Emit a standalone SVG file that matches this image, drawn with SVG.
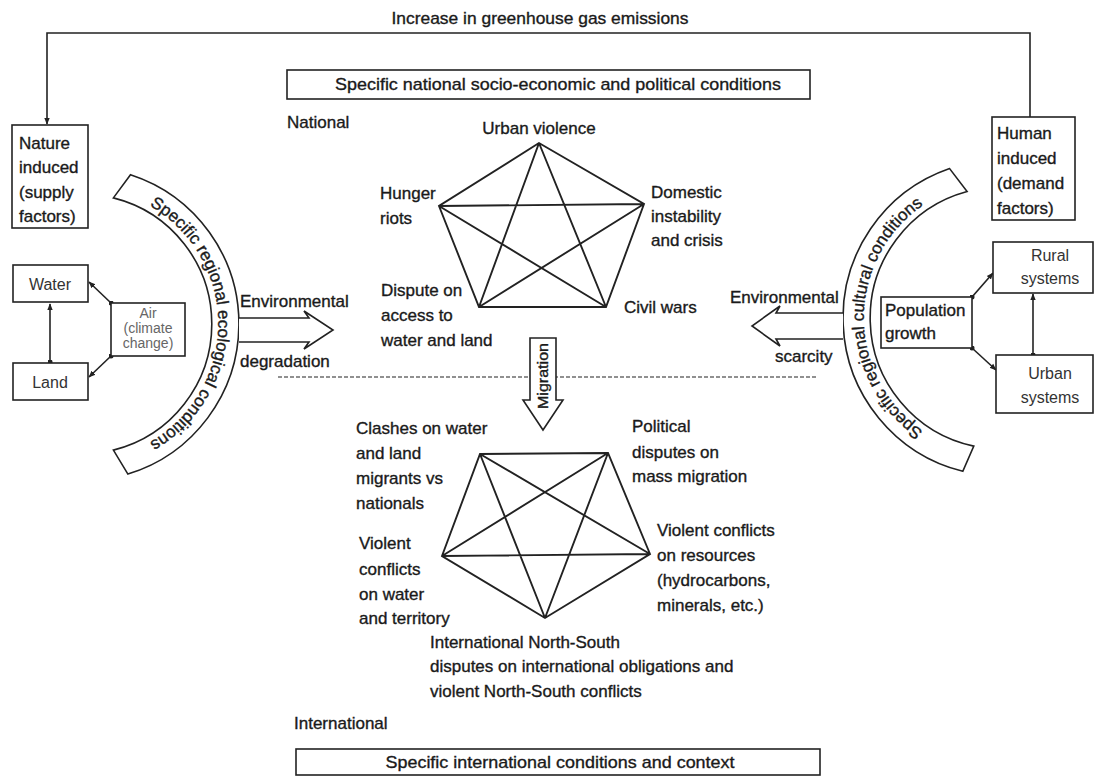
<svg xmlns="http://www.w3.org/2000/svg" width="1097" height="776" viewBox="0 0 1097 776">
<defs>
<style>
.t{font-family:"Liberation Sans",Arial,sans-serif;font-size:17px;fill:#1a1a1a;stroke:#1a1a1a;stroke-width:0.35px}
.ts{font-family:"Liberation Sans",Arial,sans-serif;font-size:16px;fill:#333}
.tg{font-family:"Liberation Sans",Arial,sans-serif;font-size:14px;fill:#666}
.box{fill:#fff;stroke:#222;stroke-width:1.6}
.ln{fill:none;stroke:#222;stroke-width:1.6}
.pl{fill:none;stroke:#222;stroke-width:1.9}
.band{fill:#fff;stroke:#222;stroke-width:1.6}
</style>
<marker id="arr" viewBox="0 0 10 10" refX="9" refY="5" markerWidth="7" markerHeight="7" markerUnits="userSpaceOnUse" orient="auto"><path d="M0,1 L10,5 L0,9 z" fill="#222"/></marker>
<marker id="dot" viewBox="0 0 10 10" refX="5" refY="5" markerWidth="5" markerHeight="5" markerUnits="userSpaceOnUse"><circle cx="5" cy="5" r="5" fill="#222"/></marker>
<path id="arcL" d="M93.9,188.5 A136,136 0 0 1 93.9,459.5"/>
<path id="arcR" d="M989.1,454.5 A137,137 0 0 1 989.1,181.5"/>
</defs>
<rect width="1097" height="776" fill="#fff"/>

<g id="connectors">
<path class="ln" d="M1030,117 L1030,33 L47,33 L47,124" marker-end="url(#arr)"/>
<path class="ln" d="M50,362 L50,304" marker-start="url(#dot)" marker-end="url(#arr)"/>
<path class="ln" d="M111,303 L89,282" marker-start="url(#dot)" marker-end="url(#arr)"/>
<path class="ln" d="M111,356 L89,377" marker-start="url(#dot)" marker-end="url(#arr)"/>
<path class="ln" d="M972,297 L993,273" marker-start="url(#dot)" marker-end="url(#arr)"/>
<path class="ln" d="M972,348 L996,370" marker-start="url(#dot)" marker-end="url(#arr)"/>
<path class="ln" d="M1033,355 L1033,294" marker-start="url(#dot)" marker-end="url(#arr)"/>
<g id="national-web">
<path class="pl" d="M539,143 L439,206 L479,307 L606,307 L644,204 Z M539,143 L479,307 M539,143 L606,307 M439,206 L644,204 M439,206 L606,307 M644,204 L479,307"/>
</g>
<g id="international-web">
<path class="pl" d="M480,454 L608,453 L650,554 L545,618 L442,556 Z M480,454 L650,554 M480,454 L545,618 M608,453 L442,556 M608,453 L545,618 M442,556 L650,554"/>
</g>
<line x1="278" y1="377" x2="818" y2="377" stroke="#222" stroke-width="1.2" stroke-dasharray="4 2"/>
</g>

<text class="t" x="540" y="24" text-anchor="middle" textLength="297" lengthAdjust="spacingAndGlyphs">Increase in greenhouse gas emissions</text>

<g id="national-conditions">
<rect class="box" x="287" y="70" width="523" height="29"/>
<text class="t" x="558" y="90" text-anchor="middle" textLength="446" lengthAdjust="spacingAndGlyphs">Specific national socio-economic and political conditions</text>
</g>
<text class="t" x="287" y="128">National</text>

<g id="nature-induced">
<rect class="box" x="12" y="125" width="76" height="103"/>
<text class="t" x="19" y="149">Nature</text>
<text class="t" x="19" y="173">induced</text>
<text class="t" x="19" y="198">(supply</text>
<text class="t" x="19" y="222">factors)</text>
</g>

<g id="human-induced">
<rect class="box" x="992" y="117" width="83" height="103"/>
<text class="t" x="997" y="139">Human</text>
<text class="t" x="997" y="164">induced</text>
<text class="t" x="997" y="189">(demand</text>
<text class="t" x="997" y="214">factors)</text>
</g>

<g id="water">
<rect class="box" x="13" y="265" width="75" height="37"/>
<text class="ts" x="50" y="290" text-anchor="middle">Water</text>
</g>
<g id="land">
<rect class="box" x="13" y="363" width="75" height="37"/>
<text class="ts" x="50" y="388" text-anchor="middle">Land</text>
</g>
<g id="air">
<rect class="box" x="111" y="303" width="74" height="53"/>
<text class="tg" x="148" y="318" text-anchor="middle">Air</text>
<text class="tg" x="148" y="333" text-anchor="middle">(climate</text>
<text class="tg" x="148" y="348" text-anchor="middle">change)</text>
</g>

<g id="regional-ecological">
<path class="band" d="M130.5,174.7 A157,157 0 0 1 127.9,474.1 L113.4,450.1 A130,130 0 0 0 113.4,197.9 Z"/>
<text class="t"><textPath href="#arcL" startOffset="50%" text-anchor="middle">Specific regional ecological conditions</textPath></text>
</g>

<g id="regional-cultural">
<path class="band" d="M949.6,168.6 A158,158 0 0 0 962.8,471.3 L973.8,446.1 A131,131 0 0 1 967.1,191.5 Z"/>
<text class="t"><textPath href="#arcR" startOffset="50%" text-anchor="middle">Specific regional cultural conditions</textPath></text>
</g>

<g id="env-degradation">
<path class="box" d="M239,318 L309,318 L304,311 L333,330 L304,349 L309,342 L239,342"/>
<text class="t" x="240" y="307">Environmental</text>
<text class="t" x="240" y="367">degradation</text>
</g>

<g id="env-scarcity">
<path class="box" d="M843,313 L776,313 L780,306 L752,326 L780,346 L776,339 L843,339"/>
<text class="t" x="730" y="303">Environmental</text>
<text class="t" x="775" y="362">scarcity</text>
</g>

<g id="population-growth">
<rect class="box" x="881" y="297" width="91" height="51"/>
<text class="t" x="885" y="316">Population</text>
<text class="t" x="885" y="339">growth</text>
</g>
<g id="rural-systems">
<rect class="box" x="993" y="242" width="100" height="51"/>
<text class="ts" x="1050" y="261" text-anchor="middle">Rural</text>
<text class="ts" x="1050" y="284" text-anchor="middle">systems</text>
</g>
<g id="urban-systems">
<rect class="box" x="996" y="355" width="97" height="58"/>
<text class="ts" x="1050" y="379" text-anchor="middle">Urban</text>
<text class="ts" x="1050" y="403" text-anchor="middle">systems</text>
</g>

<g id="urban-violence"><text class="t" x="539" y="134" text-anchor="middle">Urban violence</text></g>
<g id="hunger-riots">
<text class="t" x="380" y="199">Hunger</text>
<text class="t" x="380" y="224">riots</text>
</g>
<g id="domestic-instability">
<text class="t" x="651" y="198">Domestic</text>
<text class="t" x="651" y="222">instability</text>
<text class="t" x="651" y="246">and crisis</text>
</g>
<g id="dispute-access">
<text class="t" x="381" y="296">Dispute on</text>
<text class="t" x="381" y="321">access to</text>
<text class="t" x="381" y="346">water and land</text>
</g>
<g id="civil-wars"><text class="t" x="624" y="313">Civil wars</text></g>

<g id="migration">
<path class="box" d="M530,338 L556,338 L556,400 L563,400 L543,430 L523,400 L530,400 Z"/>
<text class="t" transform="translate(548,376) rotate(-90)" text-anchor="middle" style="font-size:14px" textLength="66" lengthAdjust="spacingAndGlyphs">Migration</text>
</g>

<g id="clashes">
<text class="t" x="356" y="434">Clashes on water</text>
<text class="t" x="356" y="459">and land</text>
<text class="t" x="356" y="484">migrants vs</text>
<text class="t" x="356" y="509">nationals</text>
</g>
<g id="political-disputes">
<text class="t" x="632" y="432">Political</text>
<text class="t" x="632" y="458">disputes on</text>
<text class="t" x="632" y="482">mass migration</text>
</g>
<g id="violent-resources">
<text class="t" x="657" y="536">Violent conflicts</text>
<text class="t" x="657" y="561">on resources</text>
<text class="t" x="657" y="586">(hydrocarbons,</text>
<text class="t" x="657" y="611">minerals, etc.)</text>
</g>
<g id="violent-territory">
<text class="t" x="359" y="549">Violent</text>
<text class="t" x="359" y="575">conflicts</text>
<text class="t" x="359" y="600">on water</text>
<text class="t" x="359" y="624">and territory</text>
</g>
<g id="north-south">
<text class="t" x="430" y="648">International North-South</text>
<text class="t" x="430" y="672">disputes on international obligations and</text>
<text class="t" x="430" y="697">violent North-South conflicts</text>
</g>

<text class="t" x="294" y="729">International</text>
<g id="international-conditions">
<rect class="box" x="296" y="749" width="524" height="26"/>
<text class="t" x="560" y="768" text-anchor="middle" textLength="349" lengthAdjust="spacingAndGlyphs">Specific international conditions and context</text>
</g>
</svg>
